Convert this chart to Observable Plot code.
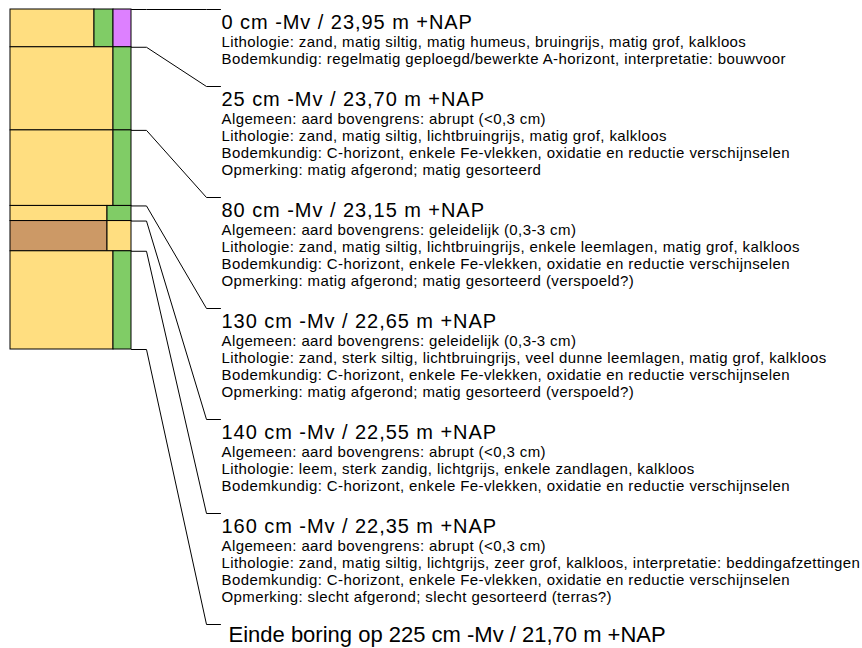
<!DOCTYPE html>
<html>
<head>
<meta charset="utf-8">
<script src="https://cdn.jsdelivr.net/npm/d3@7"></script>
<script src="https://cdn.jsdelivr.net/npm/@observablehq/plot@0.6"></script>
<style>
  html, body { margin: 0; padding: 0; background: #fff; }
  svg { display: block; }
</style>
</head>
<body>
<div id="chart"></div>
<script>
// ---------- DATA ----------
// layers of the boring (depth in cm below surface)
const layerTop    = [0, 25, 80, 130, 140, 160];
const layerBottom = [25, 80, 130, 140, 160, 225];
const endDepth = 225;

// column blocks drawn per layer: layer index, width-class interval, material
const blockLayer = [0, 0, 0, 1, 1, 2, 2, 3, 3, 4, 4, 5, 5];
const blockFrom  = [0, 84, 103, 0, 103, 0, 103, 0, 97, 0, 97, 0, 103];
const blockTo    = [84, 103, 121, 103, 121, 103, 121, 97, 121, 97, 121, 103, 121];
const blockKind  = ["zand", "fe", "humus", "zand", "fe", "zand", "fe", "zand", "fe", "leem", "zand", "zand", "fe"];

const kindNames  = ["zand", "leem", "fe", "humus"];
const kindColors = ["#FFDE80", "#CC9966", "#80CC66", "#DD80FF"];

const headings = [
  "0 cm -Mv / 23,95 m +NAP",
  "25 cm -Mv / 23,70 m +NAP",
  "80 cm -Mv / 23,15 m +NAP",
  "130 cm -Mv / 22,65 m +NAP",
  "140 cm -Mv / 22,55 m +NAP",
  "160 cm -Mv / 22,35 m +NAP"
];
const details = [
  ["Lithologie: zand, matig siltig, matig humeus, bruingrijs, matig grof, kalkloos",
   "Bodemkundig: regelmatig geploegd/bewerkte A-horizont, interpretatie: bouwvoor"],
  ["Algemeen: aard bovengrens: abrupt (<0,3 cm)",
   "Lithologie: zand, matig siltig, lichtbruingrijs, matig grof, kalkloos",
   "Bodemkundig: C-horizont, enkele Fe-vlekken, oxidatie en reductie verschijnselen",
   "Opmerking: matig afgerond; matig gesorteerd"],
  ["Algemeen: aard bovengrens: geleidelijk (0,3-3 cm)",
   "Lithologie: zand, matig siltig, lichtbruingrijs, enkele leemlagen, matig grof, kalkloos",
   "Bodemkundig: C-horizont, enkele Fe-vlekken, oxidatie en reductie verschijnselen",
   "Opmerking: matig afgerond; matig gesorteerd (verspoeld?)"],
  ["Algemeen: aard bovengrens: geleidelijk (0,3-3 cm)",
   "Lithologie: zand, sterk siltig, lichtbruingrijs, veel dunne leemlagen, matig grof, kalkloos",
   "Bodemkundig: C-horizont, enkele Fe-vlekken, oxidatie en reductie verschijnselen",
   "Opmerking: matig afgerond; matig gesorteerd (verspoeld?)"],
  ["Algemeen: aard bovengrens: abrupt (<0,3 cm)",
   "Lithologie: leem, sterk zandig, lichtgrijs, enkele zandlagen, kalkloos",
   "Bodemkundig: C-horizont, enkele Fe-vlekken, oxidatie en reductie verschijnselen"],
  ["Algemeen: aard bovengrens: abrupt (<0,3 cm)",
   "Lithologie: zand, matig siltig, lichtgrijs, zeer grof, kalkloos, interpretatie: beddingafzettingen",
   "Bodemkundig: C-horizont, enkele Fe-vlekken, oxidatie en reductie verschijnselen",
   "Opmerking: slecht afgerond; slecht gesorteerd (terras?)"]
];
const endText = "Einde boring op 225 cm -Mv / 21,70 m +NAP";

// ---------- LAYOUT ----------
const W = 862, H = 648;
const yRange = [9, 349];
const xDomain = [0, 121], xRange = [10, 131];
const yS = Plot.scale({y: {domain: [0, endDepth], range: yRange}});
const xS = Plot.scale({x: {domain: xDomain, range: xRange}});

// label anchor positions (pixel layout, then back into depth units)
const headerGap = 43, lineGap = 17;
const labelPx = [];
let cur = yS.apply(0);
for (let i = 0; i < headings.length; i++) {
  labelPx.push(cur);
  cur += headerGap + lineGap * details[i].length;
}
labelPx.push(cur); // end label
const labelDepth = labelPx.map(p => yS.invert(p));
const boundaries = layerTop.concat([endDepth]);

const colRight = xS.invert(131), kneeA = xS.invert(146), kneeB = xS.invert(206), tail = xS.invert(220);
const textX = xS.invert(221), endX = xS.invert(228);

const blocks = blockLayer.map((l, i) => ({
  y1: layerTop[l], y2: layerBottom[l], x1: blockFrom[i], x2: blockTo[i], kind: blockKind[i]
}));

const connectors = [];
boundaries.forEach((d, i) => {
  const ly = labelDepth[i];
  connectors.push({k: i, x: colRight, y: d});
  connectors.push({k: i, x: kneeA, y: d});
  connectors.push({k: i, x: kneeB, y: ly});
  connectors.push({k: i, x: tail, y: ly});
});

const headRows = headings.map((t, i) => ({x: textX, y: yS.invert(labelPx[i] + 19.6), text: t}));
const detailRows = [];
details.forEach((lines, i) => lines.forEach((t, j) => {
  detailRows.push({x: textX, y: yS.invert(labelPx[i] + 37 + lineGap * j), text: t});
}));
const endRows = [{x: endX, y: yS.invert(labelPx[headings.length] + 17.3), text: endText}];

const font = "'Liberation Sans', Arial, sans-serif";

const chart = Plot.plot({
  width: W, height: H,
  margin: 0,
  style: {background: "#fff", fontFamily: font},
  x: {domain: xDomain, range: xRange, axis: null},
  y: {domain: [0, endDepth], range: yRange, axis: null},
  color: {domain: kindNames, range: kindColors},
  marks: [
    Plot.rect(blocks, {x1: "x1", x2: "x2", y1: "y1", y2: "y2", fill: "kind", stroke: "#000", strokeWidth: 1}),
    Plot.line(connectors, {x: "x", y: "y", z: "k", stroke: "#000", strokeWidth: 1, curve: "linear"}),
    Plot.text(headRows, {x: "x", y: "y", text: "text", textAnchor: "start", lineAnchor: "bottom",
      fontSize: 20, fill: "#000", fontFamily: font}),
    Plot.text(detailRows, {x: "x", y: "y", text: "text", textAnchor: "start", lineAnchor: "bottom",
      fontSize: 15, fill: "#000", fontFamily: font}),
    Plot.text(endRows, {x: "x", y: "y", text: "text", textAnchor: "start", lineAnchor: "bottom",
      fontSize: 22, fill: "#000", fontFamily: font})
  ]
});
d3.select(chart).selectAll('g[font-size="20"]').style("letter-spacing", "0.95px");
d3.select(chart).selectAll('g[font-size="15"]').style("letter-spacing", "0.4px");
document.getElementById("chart").appendChild(chart);
</script>
</body>
</html>
